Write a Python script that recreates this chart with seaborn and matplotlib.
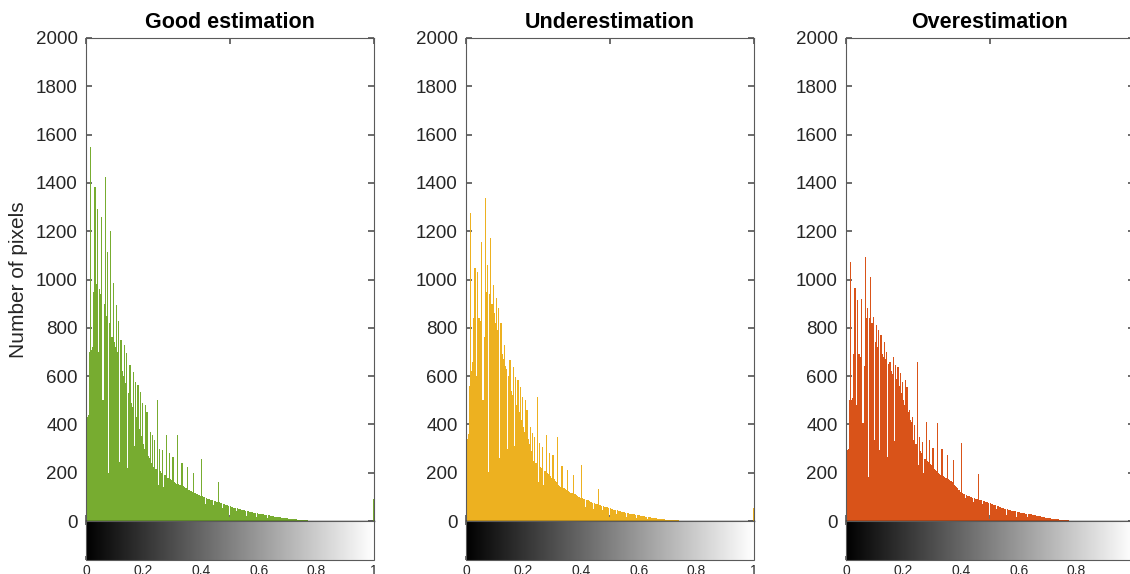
import numpy as np
import matplotlib as mpl
import matplotlib.pyplot as plt
import seaborn as sns

sns.set_theme(style="white")
plt.rcParams["font.family"] = ["Liberation Sans", "DejaVu Sans"]

# ------------------------------------------------------------
# Data: pixel counts per gray level (256 bins, imhist style)
# ------------------------------------------------------------
levels = np.arange(256) / 255

good_counts = [
    2000, 430, 440, 700, 1550, 710, 720, 950, 1385, 980, 1290, 700, 960, 940, 1260, 500,
    900, 1425, 850, 1115, 200, 820, 1200, 760, 985, 740, 720, 895, 700, 830, 245, 750,
    620, 600, 730, 570, 695, 220, 530, 645, 490, 470, 615, 310, 577, 430, 565, 380,
    535, 350, 490, 320, 300, 480, 450, 270, 260, 370, 240, 355, 225, 335, 215, 500,
    150, 300, 205, 200, 295, 140, 190, 355, 180, 178, 280, 172, 168, 265, 162, 158,
    155, 355, 152, 150, 148, 240, 145, 140, 138, 135, 222, 130, 127, 125, 122, 200,
    118, 115, 112, 110, 108, 105, 257, 102, 100, 98, 70, 95, 93, 91, 89, 87,
    85, 65, 83, 81, 79, 160, 77, 75, 73, 55, 71, 69, 67, 65, 63, 18,
    61, 59, 57, 55, 54, 40, 52, 50, 49, 48, 46, 45, 44, 42, 20, 41,
    40, 38, 37, 36, 35, 34, 33, 15, 32, 31, 30, 29, 28, 27, 26, 25,
    24, 12, 23, 22, 21, 20, 19, 18, 18, 17, 16, 15, 15, 14, 13, 13,
    12, 11, 11, 10, 10, 9, 9, 8, 8, 7, 7, 6, 6, 5, 5, 5,
    4, 4, 3, 3, 3, 2, 2, 2, 1, 1, 1, 0, 0, 0, 0, 0,
    0, 0, 0, 0, 0, 0, 0, 0, 0, 0, 0, 0, 0, 0, 0, 0,
    0, 0, 0, 0, 0, 0, 0, 0, 0, 0, 0, 0, 0, 0, 0, 0,
    0, 0, 0, 0, 0, 0, 0, 0, 0, 0, 0, 0, 0, 0, 0, 90,
]

under_counts = [
    2000, 340, 360, 560, 1275, 620, 660, 840, 1047, 600, 1032, 840, 840, 830, 1157, 500,
    760, 1336, 950, 1060, 204, 940, 1170, 900, 977, 860, 820, 922, 790, 880, 260, 818,
    690, 670, 729, 640, 630, 300, 600, 667, 540, 520, 639, 310, 597, 480, 584, 450,
    556, 420, 515, 390, 370, 501, 460, 340, 320, 390, 290, 363, 250, 349, 240, 515,
    160, 322, 225, 220, 308, 150, 205, 356, 198, 195, 280, 185, 180, 273, 172, 166,
    160, 349, 150, 145, 142, 228, 138, 135, 132, 130, 211, 125, 122, 118, 115, 190,
    112, 110, 107, 104, 100, 97, 232, 95, 92, 90, 59, 87, 85, 82, 80, 78,
    76, 50, 74, 72, 70, 132, 68, 66, 64, 45, 62, 60, 58, 56, 54, 15,
    53, 51, 49, 47, 45, 30, 44, 42, 41, 40, 38, 37, 36, 34, 15, 33,
    32, 31, 30, 29, 28, 27, 26, 12, 25, 24, 23, 22, 21, 20, 19, 18,
    17, 8, 16, 15, 14, 13, 13, 12, 11, 11, 10, 9, 9, 8, 8, 7,
    7, 6, 6, 5, 5, 5, 4, 4, 4, 3, 3, 3, 3, 2, 2, 2,
    2, 2, 1, 1, 1, 1, 1, 0, 0, 0, 0, 0, 0, 0, 0, 0,
    0, 0, 0, 0, 0, 0, 0, 0, 0, 0, 0, 0, 0, 0, 0, 0,
    0, 0, 0, 0, 0, 0, 0, 0, 0, 0, 0, 0, 0, 0, 0, 0,
    0, 0, 0, 0, 0, 0, 0, 0, 0, 0, 0, 0, 0, 0, 0, 55,
]

over_counts = [
    2000, 294, 300, 500, 1074, 500, 510, 690, 963, 480, 915, 690, 690, 680, 919, 405,
    640, 1094, 840, 880, 184, 840, 1009, 820, 846, 335, 740, 811, 720, 791, 294, 770,
    690, 680, 742, 670, 701, 266, 650, 660, 620, 610, 680, 330, 646, 590, 639, 560,
    611, 530, 577, 500, 480, 584, 556, 450, 460, 420, 410, 432, 335, 397, 320, 660,
    230, 349, 290, 280, 328, 200, 255, 411, 250, 245, 335, 238, 232, 301, 215, 210,
    205, 404, 200, 195, 190, 298, 186, 183, 180, 177, 273, 172, 168, 164, 160, 252,
    150, 145, 140, 135, 130, 120, 324, 115, 112, 110, 95, 107, 105, 103, 101, 99,
    97, 80, 95, 93, 91, 195, 89, 87, 85, 70, 83, 81, 79, 77, 75, 10,
    73, 71, 69, 67, 65, 50, 63, 61, 59, 57, 55, 53, 51, 49, 25, 48,
    47, 46, 45, 43, 42, 41, 40, 18, 39, 37, 36, 35, 34, 33, 32, 31,
    30, 15, 29, 28, 27, 26, 25, 24, 23, 22, 21, 20, 19, 18, 17, 16,
    15, 14, 13, 13, 12, 11, 10, 10, 9, 8, 8, 7, 7, 6, 6, 5,
    5, 4, 4, 3, 3, 3, 2, 2, 2, 1, 1, 1, 1, 0, 0, 0,
    0, 0, 0, 0, 0, 0, 0, 0, 0, 0, 0, 0, 0, 0, 0, 0,
    0, 0, 0, 0, 0, 0, 0, 0, 0, 0, 0, 0, 0, 0, 0, 0,
    0, 0, 0, 0, 0, 0, 0, 0, 0, 0, 0, 0, 0, 0, 0, 40,
]

titles = ["Good estimation", "Underestimation", "Overestimation"]
colors = ["#77AC30", "#EDB120", "#D95319"]
y_ticks = [0, 200, 400, 600, 800, 1000, 1200, 1400, 1600, 1800, 2000]
cbar_ticks = [0, 0.2, 0.4, 0.6, 0.8, 1]
cbar_labels = ["0", "0.2", "0.4", "0.6", "0.8", "1"]

# ------------------------------------------------------------
# Figure layout (pixels -> figure fractions)
# ------------------------------------------------------------
W, H = 1130, 574
fig = plt.figure(figsize=(W / 100, H / 100), dpi=100)
lefts = [86, 466, 846]
ax_w = 288
text_col = "#262626"
spine_col = "#5a5a5a"

for left, counts, title, color in zip(lefts, [good_counts, under_counts, over_counts], titles, colors):
    ax = fig.add_axes([left / W, 53 / H, ax_w / W, 483 / H])
    sns.histplot(
        x=levels, weights=counts, bins=256,
        binrange=(-0.5 / 255, 1 + 0.5 / 255),
        color=color, alpha=1, linewidth=0, ax=ax,
    )
    ax.set_xlim(0, 1)
    ax.set_ylim(0, 2000)
    ax.set_xticks([0, 0.5, 1])
    ax.set_yticks(y_ticks)
    ax.tick_params(axis="x", direction="in", top=True, bottom=True,
                   labelbottom=False, length=4, color=spine_col)
    ax.tick_params(axis="y", direction="in", left=True, right=True,
                   length=4, labelsize=13.5, pad=6, labelcolor=text_col, color=spine_col)
    ax.set_xlabel("")
    ax.set_ylabel("")
    for s in ["top", "left", "right"]:
        ax.spines[s].set_color(spine_col)
        ax.spines[s].set_linewidth(0.8)
    ax.spines["bottom"].set_color("black")
    ax.spines["bottom"].set_linewidth(1.0)
    ax.set_title(title, fontsize=15.5, fontweight="bold", pad=7, color="black")

    if left == lefts[0]:
        ax.set_ylabel("Number of pixels", fontsize=15, color=text_col)
        ax.yaxis.set_label_coords(-0.20, 0.5)

    # grayscale bar underneath
    cax = fig.add_axes([left / W, 14 / H, ax_w / W, 39 / H])
    sm = mpl.cm.ScalarMappable(norm=mpl.colors.Normalize(0, 1), cmap="gray")
    cb = fig.colorbar(sm, cax=cax, orientation="horizontal")
    cb.set_ticks(cbar_ticks)
    cb.set_ticklabels(cbar_labels)
    cb.outline.set_edgecolor(spine_col)
    cb.outline.set_linewidth(0.8)
    cax.tick_params(axis="x", direction="in", top=True, bottom=True,
                    length=3, labelsize=10, pad=3, labelcolor=text_col, color=spine_col)
    cax.set_yticks([0.5])
    cax.tick_params(axis="y", direction="in", left=True, right=True,
                    labelleft=False, length=3, color=spine_col)

fig.savefig("out.png", dpi=100)
